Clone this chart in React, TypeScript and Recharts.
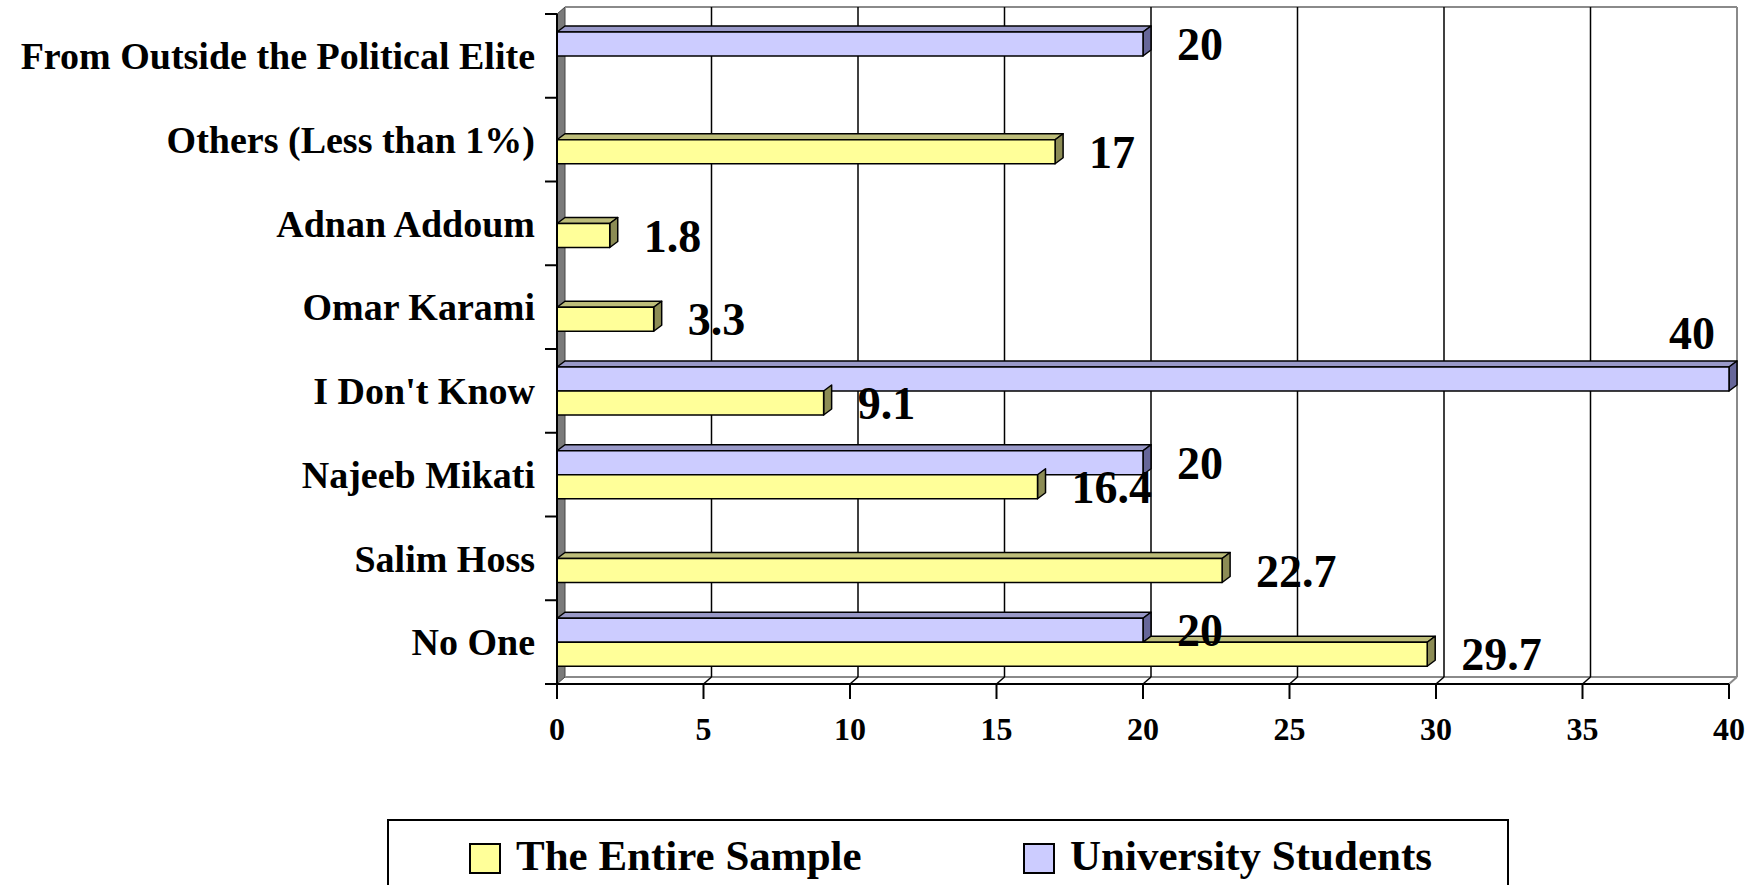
import { BarChart, Bar, XAxis, YAxis, CartesianGrid, Legend, LabelList } from "recharts"

const categories = [
  "From Outside the Political Elite",
  "Others (Less than 1%)",
  "Adnan Addoum",
  "Omar Karami",
  "I Don't Know",
  "Najeeb Mikati",
  "Salim Hoss",
  "No One",
]
const entireSample = [0, 17, 1.8, 3.3, 9.1, 16.4, 22.7, 29.7]
const universityStudents = [20, 0, 0, 0, 40, 20, 0, 20]
const xTicks = [0, 5, 10, 15, 20, 25, 30, 35, 40]
const seriesNames = ["The Entire Sample", "University Students"]

const data = categories.map((name, i) => ({
  name,
  sample: entireSample[i],
  students: universityStudents[i],
}))

// layout of the 3D box
const W = 1763
const H = 885
const PLOT_LEFT = 557
const PLOT_RIGHT = 1729
const PLOT_TOP = 14
const PLOT_BOTTOM = 684
const DX = 8
const DY = 7
const BAND = (PLOT_BOTTOM - PLOT_TOP) / categories.length
const FONT = "'Liberation Serif', 'Times New Roman', serif"
const LABEL_SIZE = 46

const YELLOW = { face: "#FFFF99", top: "#BDBD7A", side: "#8C8C55" }
const PURPLE = { face: "#CCCCFF", top: "#9999C8", side: "#666699" }

function box(x: number, y: number, w: number, h: number, c: typeof YELLOW, topFrom: number) {
  const d = 6
  return (
    <g stroke="#000" strokeWidth={1.5} strokeLinejoin="round">
      {x + w > topFrom && (
        <polygon
          points={`${topFrom},${y} ${topFrom + DX},${y - d} ${x + w + DX},${y - d} ${x + w},${y}`}
          fill={c.top}
        />
      )}
      <polygon points={`${x + w},${y} ${x + w + DX},${y - d} ${x + w + DX},${y + h - d} ${x + w},${y + h}`} fill={c.side} />
      <rect x={x} y={y} width={w} height={h} fill={c.face} />
    </g>
  )
}

function StudentsShape(props: any) {
  const { x, y, width, height, payload } = props
  if (!payload.students) return <g />
  return box(x, y, width, height, PURPLE, x)
}

function SampleShape(props: any) {
  const { x, y, width, height, payload } = props
  if (!payload.sample) return <g />
  // the students bar sits above and in front; top face only shows past its end
  const perUnit = width / payload.sample
  const hidden = payload.students ? x + payload.students * perUnit : x
  return box(x, y, width, height, YELLOW, Math.max(x, hidden))
}

function ValueLabel(props: any) {
  const { x, y, width, height, value } = props
  if (!value) return null
  const textW = String(value).length * LABEL_SIZE * 0.5
  let tx = x + width + DX + 26
  let ty = y + height / 2
  let anchor: "start" | "end" = "start"
  if (tx + textW > W - 10) {
    // no room on the right: put it above the bar end
    tx = x + width - 14
    ty = y - 34
    anchor = "end"
  }
  return (
    <text
      x={tx}
      y={ty}
      dy="0.35em"
      textAnchor={anchor}
      fontFamily={FONT}
      fontWeight="bold"
      fontSize={LABEL_SIZE}
      fill="#000"
    >
      {value}
    </text>
  )
}

function CategoryTick(props: any) {
  const { y, payload, index } = props
  return (
    <g>
      <text
        x={PLOT_LEFT - 22}
        y={y}
        dy="0.35em"
        textAnchor="end"
        fontFamily={FONT}
        fontWeight="bold"
        fontSize={38}
        fill="#000"
      >
        {payload.value}
      </text>
      <line x1={PLOT_LEFT - 12} x2={PLOT_LEFT} y1={y - BAND / 2} y2={y - BAND / 2} stroke="#000" strokeWidth={2} />
      {index === categories.length - 1 && (
        <line x1={PLOT_LEFT - 12} x2={PLOT_LEFT} y1={y + BAND / 2} y2={y + BAND / 2} stroke="#000" strokeWidth={2} />
      )}
    </g>
  )
}

function GridLine(props: any) {
  const { x1, y1, y2 } = props
  const isFirst = Math.abs(x1 - PLOT_LEFT) < 1
  const isLast = Math.abs(x1 - PLOT_RIGHT) < 1
  return (
    <g>
      {isFirst && (
        <>
          <polygon
            points={`${x1},${y1} ${x1 + DX},${y1 - DY} ${x1 + DX},${y2 - DY} ${x1},${y2}`}
            fill="#7a7a7a"
            stroke="#444"
            strokeWidth={1}
          />
          <line x1={x1 + DX} y1={y1 - DY} x2={PLOT_RIGHT + DX} y2={y1 - DY} stroke="#8a8a8a" strokeWidth={2} />
          <line x1={x1 + DX} y1={y2 - DY} x2={PLOT_RIGHT + DX} y2={y2 - DY} stroke="#8a8a8a" strokeWidth={2} />
        </>
      )}
      {isLast ? (
        <>
          <line x1={x1 + DX} y1={y1 - DY} x2={x1 + DX} y2={y2 - DY} stroke="#8a8a8a" strokeWidth={2} />
          <line x1={x1} y1={y2} x2={x1 + DX} y2={y2 - DY} stroke="#8a8a8a" strokeWidth={2} />
        </>
      ) : (
        !isFirst && (
          <>
            <line x1={x1 + DX} y1={y1 - DY} x2={x1 + DX} y2={y2 - DY} stroke="#000" strokeWidth={1.5} />
            <line x1={x1} y1={y2} x2={x1 + DX} y2={y2 - DY} stroke="#000" strokeWidth={1.5} />
          </>
        )
      )}
    </g>
  )
}

function LegendBox() {
  const colors = [YELLOW.face, PURPLE.face]
  const lefts = [80, 634]
  return (
    <div
      style={{
        position: "relative",
        width: 1122,
        height: 80,
        border: "2px solid #000",
        boxSizing: "border-box",
        background: "#fff",
      }}
    >
      {seriesNames.map((n, i) => (
        <div
          key={n}
          style={{
            position: "absolute",
            left: lefts[i],
            top: 10,
            display: "flex",
            alignItems: "center",
            fontFamily: FONT,
            fontWeight: "bold",
            fontSize: 43,
            lineHeight: "50px",
            whiteSpace: "nowrap",
          }}
        >
          <span
            style={{
              display: "inline-block",
              width: 28,
              height: 27,
              background: colors[i],
              border: "2px solid #000",
              marginRight: 15,
              marginTop: 4,
            }}
          />
          {n}
        </div>
      ))}
    </div>
  )
}

export default function App() {
  return (
    <div style={{ position: "absolute", left: 0, top: 0, width: W, height: H, background: "#fff", overflow: "hidden" }}>
      <BarChart
        width={W}
        height={H}
        data={data}
        layout="vertical"
        margin={{ top: PLOT_TOP, right: W - PLOT_RIGHT, bottom: H - PLOT_BOTTOM - 60, left: 0 }}
        barSize={24}
        barGap={0}
      >
        <CartesianGrid horizontal={false} vertical={GridLine} />
        <XAxis
          type="number"
          domain={[0, 40]}
          ticks={xTicks}
          interval={0}
          height={60}
          axisLine={{ stroke: "#000", strokeWidth: 2 }}
          tickLine={{ stroke: "#000", strokeWidth: 2 }}
          tickSize={15}
          tickMargin={18}
          tick={{ fill: "#000", fontFamily: FONT, fontWeight: "bold", fontSize: 32 }}
        />
        <YAxis
          type="category"
          dataKey="name"
          width={PLOT_LEFT}
          interval={0}
          axisLine={{ stroke: "#000", strokeWidth: 2 }}
          tickLine={false}
          tick={<CategoryTick />}
        />
        <Legend
          verticalAlign="middle"
          align="center"
          wrapperStyle={{ left: 387, top: 819, width: 1122 }}
          content={() => <LegendBox />}
        />
        <Bar dataKey="students" name={seriesNames[1]} fill={PURPLE.face} shape={StudentsShape} isAnimationActive={false}>
          <LabelList dataKey="students" content={ValueLabel} />
        </Bar>
        <Bar dataKey="sample" name={seriesNames[0]} fill={YELLOW.face} shape={SampleShape} isAnimationActive={false}>
          <LabelList dataKey="sample" content={ValueLabel} />
        </Bar>
      </BarChart>
    </div>
  )
}
